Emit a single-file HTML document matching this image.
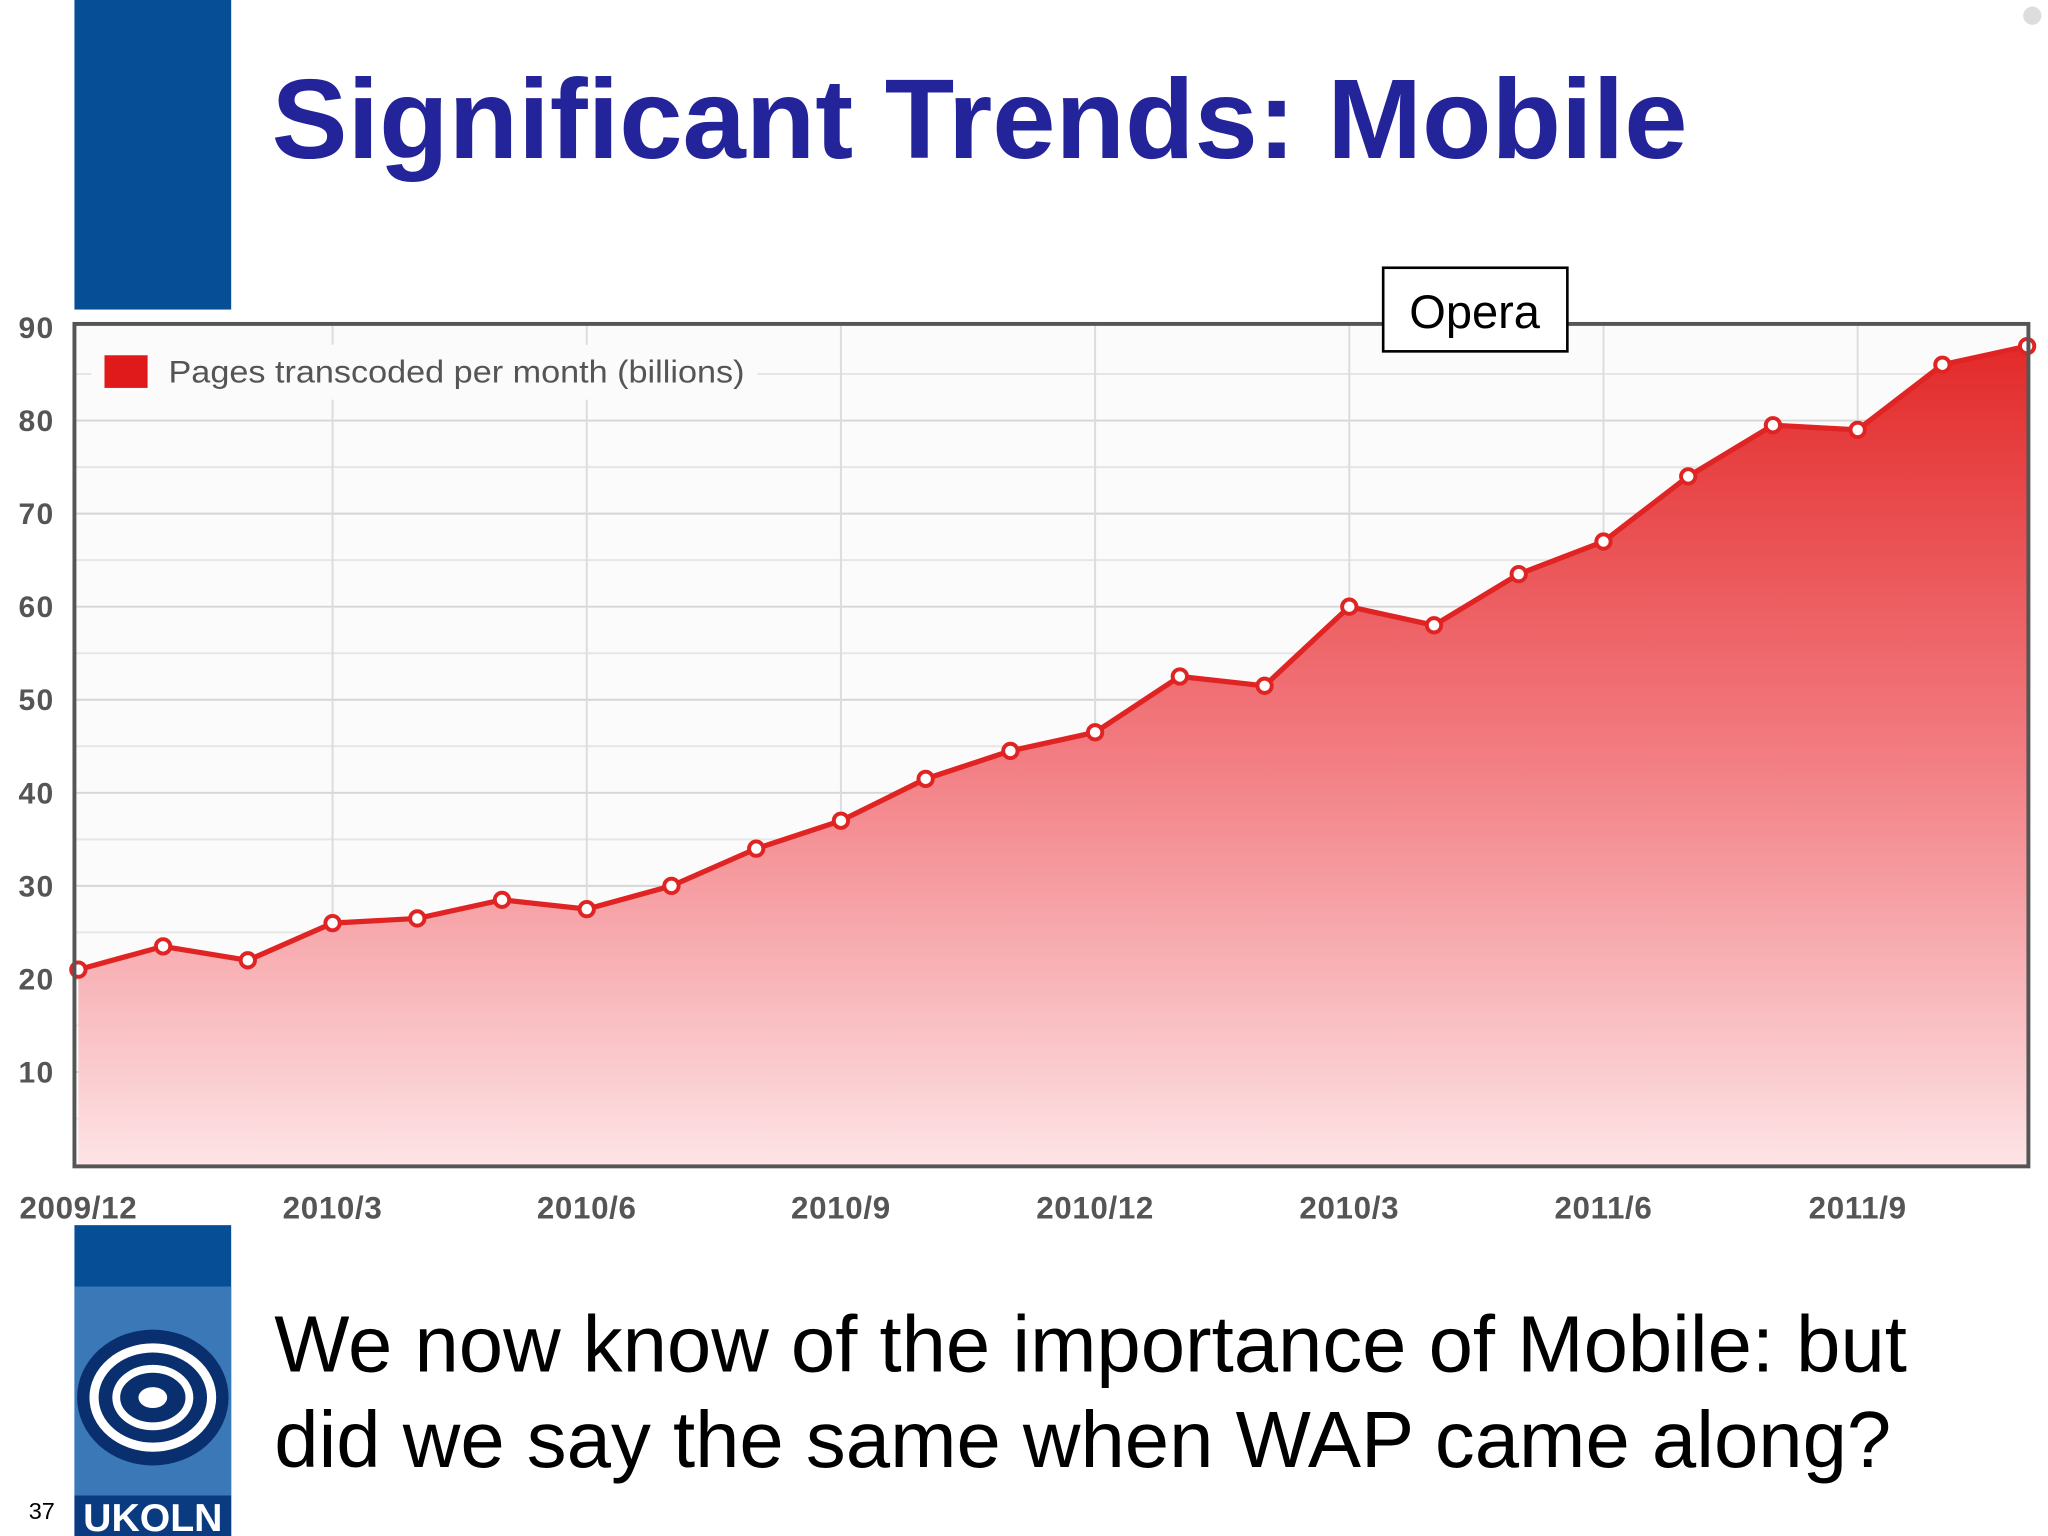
<!DOCTYPE html>
<html><head><meta charset="utf-8"><style>
html,body{margin:0;padding:0;background:#fff;}
svg{display:block;}
</style></head><body>
<svg id="s" width="2048" height="1536" viewBox="0 0 1568 1176" xmlns="http://www.w3.org/2000/svg">
<defs>
<linearGradient id="g" x1="0" y1="0" x2="0" y2="1">
<stop offset="0" stop-color="#e32a2a"/><stop offset="0.5" stop-color="#f27d82"/><stop offset="1" stop-color="#fde4e6"/>
</linearGradient>
</defs>
<rect x="0" y="0" width="1568" height="1176" fill="#fff"/>
<rect x="57" y="0" width="120" height="237" fill="#064f96"/>
<text x="208" y="121" textLength="1084" lengthAdjust="spacingAndGlyphs" font-family="Liberation Sans, sans-serif" font-weight="bold" font-size="87" fill="#23239a">Significant Trends: Mobile</text>
<circle cx="1556" cy="12" r="7" fill="#ddd"/>
<g id="chart"></g>
<rect x="1059" y="205" width="141" height="64" fill="#fff" stroke="#000" stroke-width="2"/>
<text x="1129" y="251" text-anchor="middle" font-family="Liberation Sans, sans-serif" font-size="36" fill="#000">Opera</text>
<rect x="57" y="938" width="120" height="238" fill="#064f96"/>
<g>
<rect x="57" y="985" width="120" height="160" fill="#3a78b8"/>
<ellipse cx="117" cy="1070" rx="58" ry="52" fill="#0a2f6e"/>
<ellipse cx="117" cy="1070" rx="45" ry="38" fill="none" stroke="#fff" stroke-width="7"/>
<ellipse cx="117" cy="1070" rx="28" ry="22" fill="none" stroke="#fff" stroke-width="6"/>
<ellipse cx="117" cy="1070" rx="11" ry="8" fill="#fff"/>
<rect x="57" y="1145" width="120" height="31" fill="#0a3a80"/>
<text x="117" y="1172" text-anchor="middle" font-family="Liberation Sans, sans-serif" font-weight="bold" font-size="30" fill="#fff">UKOLN</text>
</g>
<text x="22" y="1163" font-family="Liberation Sans, sans-serif" font-size="18" fill="#000">37</text>
<text font-family="Liberation Sans, sans-serif" font-size="61" fill="#000"><tspan x="210" y="1050" textLength="1250" lengthAdjust="spacingAndGlyphs">We now know of the importance of Mobile: but</tspan><tspan x="210" y="1123" textLength="1238" lengthAdjust="spacingAndGlyphs">did we say the same when WAP came along?</tspan></text>
</svg>
<script>
const values=[21,23.5,22,26,26.5,28.5,27.5,30,34,37,41.5,44.5,46.5,52.5,51.5,60,58,63.5,67,74,79.5,79,86,88];
const yTicks=[10,20,30,40,50,60,70,80,90];
const xTickLabels=["2009/12","2010/3","2010/6","2010/9","2010/12","2010/3","2011/6","2011/9"];
const legendLabel="Pages transcoded per month (billions)";
const NS="http://www.w3.org/2000/svg";
const L=57,R=1553,T=248,B=893,x0=60,step=64.87;
const xS=i=>x0+i*step;
const yS=v=>892-v*7.125;
const g=document.getElementById('chart');
function mk(t,a,p){const e=document.createElementNS(NS,t);for(const k in a)e.setAttribute(k,a[k]);(p||g).appendChild(e);return e;}
mk('rect',{x:L,y:T,width:R-L,height:B-T,fill:'#fbfbfb'});
for(let v=5;v<90;v+=5){const e=mk('line',{x1:L,x2:R,y1:yS(v),y2:yS(v),stroke:v%10?'#e6e6e6':'#d6d6d6','stroke-width':1.5});

}
for(let q=1;q<xTickLabels.length;q++){const e=mk('line',{x1:xS(q*3),x2:xS(q*3),y1:T,y2:B,stroke:'#dcdcdc','stroke-width':1.5});

}
let d='M'+xS(0)+','+yS(values[0]);values.forEach((v,i)=>{if(i)d+=' L'+xS(i)+','+yS(v);});
const area=mk('path',{d:d+' L'+xS(values.length-1)+','+B+' L'+xS(0)+','+B+' Z',fill:'url(#g)'});


const line=mk('path',{d:d,fill:'none',stroke:'#e02424','stroke-width':4});


values.forEach((v,i)=>{const c=mk('circle',{cx:xS(i),cy:yS(v),r:5.5,fill:'#fff',stroke:'#e02424','stroke-width':3});

});
const fr=mk('rect',{x:L,y:T,width:R-L,height:B-T,fill:'none',stroke:'#555','stroke-width':3});


yTicks.forEach(v=>{const t=mk('text',{x:28,y:yS(v)+8,'text-anchor':'middle','font-family':'Liberation Sans, sans-serif','font-size':23,'font-weight':'bold',fill:'#555','letter-spacing':'1'});t.textContent=v;

});
xTickLabels.forEach((s,q)=>{const t=mk('text',{x:xS(q*3),y:933,'text-anchor':'middle','font-family':'Liberation Sans, sans-serif','font-size':24,'font-weight':'bold',fill:'#555','letter-spacing':'0.5'});t.textContent=s;

});
const lb=mk('rect',{x:70,y:264,width:510,height:42,fill:'#fbfbfb'});


const sw=mk('rect',{x:80,y:272,width:33,height:25,fill:'#e01a1a'});


const lt=mk('text',{x:129,y:293,'font-family':'Liberation Sans, sans-serif','font-size':24,fill:'#555',textLength:441,lengthAdjust:'spacingAndGlyphs'});lt.textContent=legendLabel;


</script>
</body></html>
